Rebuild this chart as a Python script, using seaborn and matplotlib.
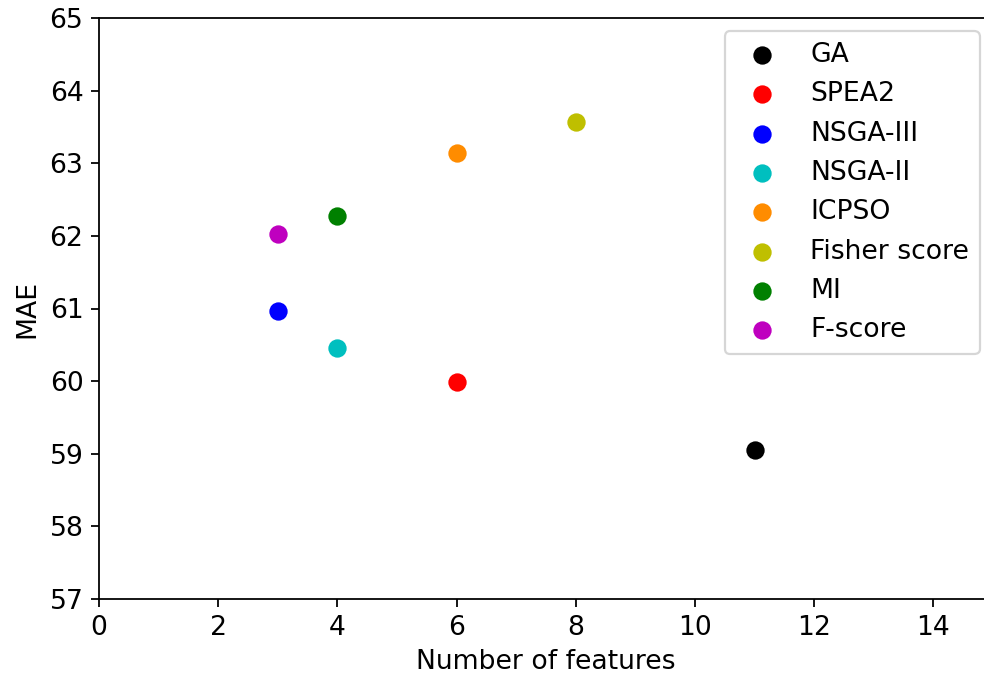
import matplotlib
matplotlib.use("Agg")
import matplotlib.pyplot as plt
import seaborn as sns

methods = ["GA", "SPEA2", "NSGA-III", "NSGA-II", "ICPSO", "Fisher score", "MI", "F-score"]
n_features = [11, 6, 3, 4, 6, 8, 4, 3]
mae = [59.05, 59.99, 60.97, 60.46, 63.14, 63.57, 62.27, 62.03]
colors = ["k", "r", "b", "c", "darkorange", "y", "g", "m"]

DPI = 160
plt.rcParams["font.family"] = ["DejaVu Sans"]
plt.rcParams["font.size"] = 12

fig = plt.figure(figsize=(984 / DPI, 680 / DPI), dpi=DPI)
ax = fig.add_axes([99 / 984, 81 / 680, 894 / 984, 581 / 680])

for name, x, y, c in zip(methods, n_features, mae, colors):
    sns.scatterplot(x=[x], y=[y], color=c, label=name, s=68, linewidth=0, ax=ax)

ax.set_xlim(0, 15)
ax.set_ylim(57, 65)
ax.set_xticks(range(0, 15, 2))
ax.set_yticks(range(57, 66))
ax.set_xlabel("Number of features")
ax.set_ylabel("MAE")
ax.legend(loc="upper right")

fig.savefig("out.png", dpi=DPI)
